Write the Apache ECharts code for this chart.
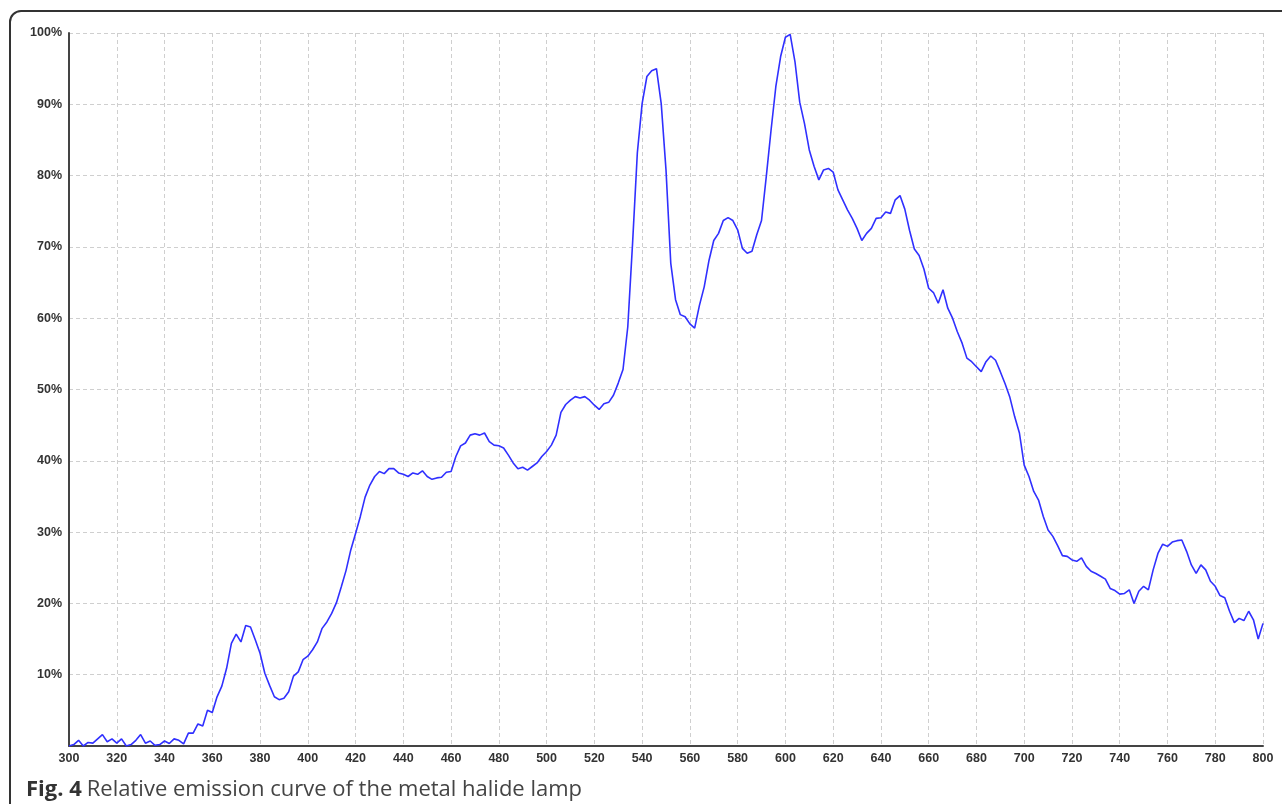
<!DOCTYPE html>
<html>
<head>
<meta charset="utf-8">
<title>Relative emission curve</title>
<script src="https://cdn.jsdelivr.net/npm/echarts@6/dist/echarts.min.js"></script>
<style>
  html, body { margin: 0; padding: 0; background: #fff; }
  #chart { width: 1282px; height: 804px; }
</style>
</head>
<body>
<div id="chart"></div>
<script>
// wavelength axis: samples every 2 nm from 300 to 800
var startNm = 300;
var stepNm = 2;
var xTicks = [300, 320, 340, 360, 380, 400, 420, 440, 460, 480, 500, 520, 540, 560,
              580, 600, 620, 640, 660, 680, 700, 720, 740, 760, 780, 800];
var yTicks = [10, 20, 30, 40, 50, 60, 70, 80, 90, 100];

// relative intensity in %
var intensity = [
  0, 0.2, 0.8, 0, 0.5, 0.4, 1.0, 1.6, 0.6, 1.0,            // 300-318
  0.4, 1.0, 0, 0.2, 0.8, 1.6, 0.4, 0.7, 0.1, 0.2,          // 320-338
  0.7, 0.35, 1.0, 0.8, 0.3, 1.8, 1.8, 3.1, 2.8, 5.0,       // 340-358
  4.7, 6.9, 8.4, 10.9, 14.4, 15.7, 14.6, 16.9, 16.7, 14.9, // 360-378
  13.0, 10.2, 8.5, 6.9, 6.5, 6.7, 7.6, 9.8, 10.4, 12.1,    // 380-398
  12.6, 13.5, 14.6, 16.5, 17.4, 18.6, 20.1, 22.3, 24.6, 27.5, // 400-418
  29.8, 32.2, 34.9, 36.6, 37.8, 38.5, 38.2, 38.9, 38.9, 38.3, // 420-438
  38.1, 37.8, 38.3, 38.1, 38.6, 37.8, 37.4, 37.6, 37.7, 38.4, // 440-458
  38.5, 40.6, 42.1, 42.5, 43.6, 43.8, 43.6, 43.9, 42.7, 42.2, // 460-478
  42.1, 41.8, 40.8, 39.7, 38.9, 39.1, 38.7, 39.2, 39.7, 40.6, // 480-498
  41.3, 42.2, 43.6, 46.8, 47.9, 48.5, 49.0, 48.8, 49.0, 48.5, // 500-518
  47.8, 47.2, 48.0, 48.2, 49.2, 50.9, 52.8, 58.8, 70.5, 83.2, // 520-538
  90.1, 93.9, 94.7, 95.0, 90.1, 80.8, 67.7, 62.6, 60.5, 60.2, // 540-558
  59.2, 58.6, 61.8, 64.4, 68.1, 70.9, 71.9, 73.7, 74.1, 73.7, // 560-578
  72.4, 69.8, 69.1, 69.4, 71.7, 73.7, 79.9, 86.4, 92.5, 96.7, // 580-598
  99.4, 99.8, 96.0, 90.3, 87.3, 83.6, 81.3, 79.4, 80.8, 81.0, // 600-618
  80.5, 78.0, 76.6, 75.2, 74.0, 72.6, 70.9, 71.9, 72.6, 74.0, // 620-638
  74.1, 74.9, 74.7, 76.6, 77.2, 75.3, 72.3, 69.7, 68.8, 66.9, // 640-658
  64.2, 63.6, 62.1, 64.0, 61.4, 60.0, 58.1, 56.5, 54.4, 53.9, // 660-678
  53.2, 52.5, 53.9, 54.7, 54.1, 52.5, 50.8, 48.9, 46.2, 43.9, // 680-698
  39.4, 37.8, 35.7, 34.5, 32.2, 30.3, 29.4, 28.1, 26.7, 26.6, // 700-718
  26.1, 25.9, 26.4, 25.2, 24.5, 24.2, 23.8, 23.4, 22.1, 21.8, // 720-738
  21.3, 21.4, 21.9, 20.0, 21.7, 22.4, 21.9, 24.7, 27.0, 28.3, // 740-758
  28.0, 28.6, 28.8, 28.9, 27.3, 25.4, 24.2, 25.4, 24.7, 23.1, // 760-778
  22.4, 21.1, 20.8, 18.9, 17.3, 17.9, 17.6, 18.9, 17.7, 15.0, // 780-798
  17.2                                                      // 800
];

var captionBold = 'Fig. 4';
var captionText = 'Relative emission curve of the metal halide lamp';

drawChart();

function drawChart(){
    var myChart = echarts.init(document.getElementById('chart'));

    var points = [];
    for (var i = 0; i < intensity.length; i++) {
        points.push([startNm + i * stepNm, intensity[i]]);
    }

    var option = {
        backgroundColor: '#ffffff',
        animation: false,
        title: {
            text: '{b|' + captionBold + '} {n|' + captionText + '}',
            left: 21,
            top: 771,
            textStyle: {
                rich: {
                    b: { fontFamily: 'Open Sans', fontWeight: 'bold', fontSize: 22, color: '#333', lineHeight: 28 },
                    n: { fontFamily: 'Open Sans', fontWeight: 'normal', fontSize: 22, color: '#444', lineHeight: 28 }
                }
            }
        },
        graphic: [{
            type: 'rect',
            silent: true,
            shape: { x: 10, y: 11, width: 1400, height: 900, r: [11, 0, 0, 0] },
            style: { fill: 'none', stroke: '#333', lineWidth: 2 }
        }],
        grid: {
            left: 69,
            right: 19,
            top: 33,
            bottom: 58,
            containLabel: false
        },
        xAxis: {
            type: 'value',
            min: xTicks[0],
            max: xTicks[xTicks.length - 1],
            interval: xTicks[1] - xTicks[0],
            axisLine: { lineStyle: { color: '#444', width: 2 } },
            axisTick: { show: false },
            axisLabel: {
                margin: 6,
                color: '#333',
                fontFamily: 'Liberation Sans',
                fontWeight: 'bold',
                fontSize: 12.5
            },
            splitLine: {
                show: true,
                lineStyle: { color: '#cfcfcf', type: [4, 3], width: 1 }
            }
        },
        yAxis: {
            type: 'value',
            min: 0,
            max: yTicks[yTicks.length - 1],
            interval: yTicks[1] - yTicks[0],
            axisLine: { show: true, lineStyle: { color: '#444', width: 2 } },
            axisTick: { show: false },
            axisLabel: {
                margin: 7,
                color: '#333',
                fontFamily: 'Liberation Sans',
                fontWeight: 'bold',
                fontSize: 12.5,
                formatter: function (v) {
                    return yTicks.indexOf(v) >= 0 ? v + '%' : '';
                }
            },
            splitLine: {
                show: true,
                lineStyle: { color: '#cfcfcf', type: [4, 3], width: 1 }
            }
        },
        series: [{
            name: 'Emission',
            type: 'line',
            showSymbol: false,
            symbol: 'none',
            smooth: false,
            lineStyle: { color: '#3030ff', width: 1.6 },
            data: points
        }]
    };
    myChart.setOption(option);
}
</script>
</body>
</html>
